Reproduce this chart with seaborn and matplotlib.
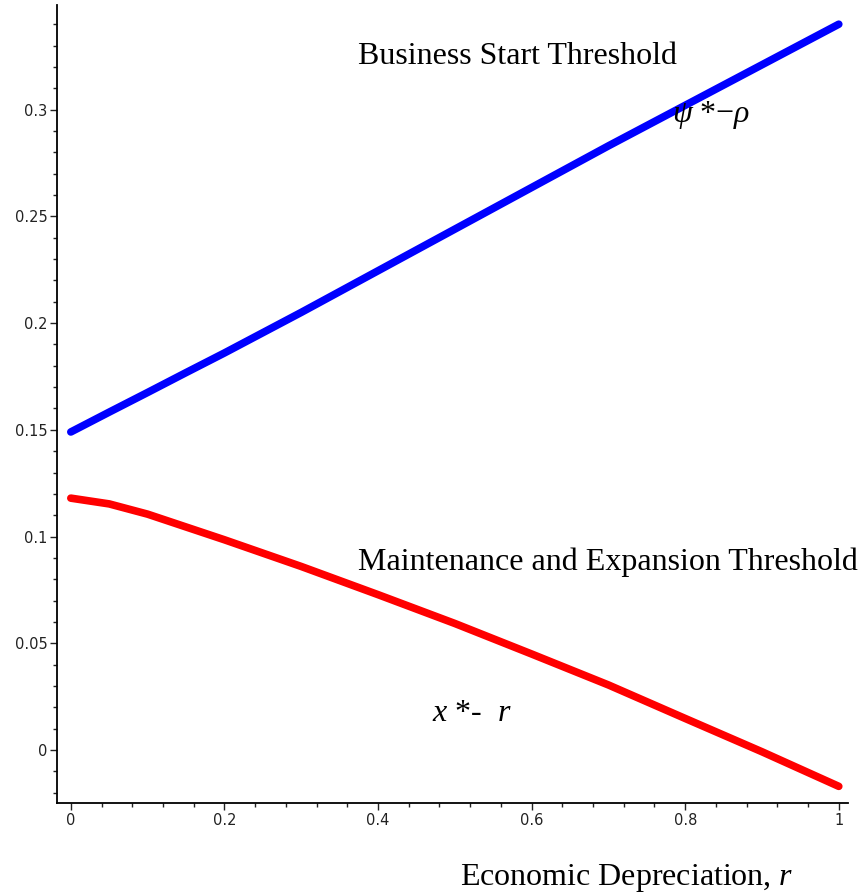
import numpy as np
import pandas as pd
import matplotlib
matplotlib.use("Agg")
import matplotlib.pyplot as plt
import seaborn as sns
from matplotlib.ticker import MultipleLocator, FuncFormatter

# values
r_grid = [0.0, 0.05, 0.1, 0.15, 0.2, 0.3, 0.4, 0.5, 0.6, 0.7, 0.8, 0.9, 1.0]
start_threshold = [0.149, 0.1583, 0.1675, 0.1768, 0.186, 0.205, 0.2245, 0.244, 0.2635, 0.283, 0.302, 0.321, 0.340]
maint_threshold = [0.118, 0.1153, 0.1105, 0.1045, 0.0985, 0.086, 0.0728, 0.0593, 0.045, 0.0305, 0.0148, -0.0008, -0.017]

df = pd.DataFrame({
    "r": r_grid * 2,
    "value": start_threshold + maint_threshold,
    "curve": ["start"] * len(r_grid) + ["maint"] * len(r_grid),
})

sns.set_style("ticks")
plt.rcParams["mathtext.fontset"] = "custom"
plt.rcParams["mathtext.rm"] = "Liberation Serif"
plt.rcParams["mathtext.it"] = "Liberation Serif:italic"
plt.rcParams["text.color"] = "black"

fig = plt.figure(figsize=(8.6, 8.96), dpi=100)
ax = fig.add_axes([57 / 860, 1 - 803 / 896, (848 - 57) / 860, (803 - 5) / 896])

sns.lineplot(data=df, x="r", y="value", hue="curve",
             palette={"start": "#0000ff", "maint": "#ff0000"},
             linewidth=5.5, legend=False, ax=ax, solid_capstyle="round",
             solid_joinstyle="round")

ax.set_xlim(-0.018, 1.012)
ax.set_ylim(-0.0248, 0.349)
ax.xaxis.set_major_locator(MultipleLocator(0.2))
ax.xaxis.set_minor_locator(MultipleLocator(0.04))
ax.yaxis.set_major_locator(MultipleLocator(0.05))
ax.yaxis.set_minor_locator(MultipleLocator(0.01))
fmt = FuncFormatter(lambda v, p: f"{round(v, 4):g}")
ax.xaxis.set_major_formatter(fmt)
ax.yaxis.set_major_formatter(fmt)
ax.tick_params(which="major", length=5, width=1, colors="#222222", labelsize=10.5, pad=2)
ax.tick_params(which="minor", length=3, width=1, colors="#222222")
ax.set_xlabel("")
ax.set_ylabel("")
sns.despine(ax=ax)
for s in ("left", "bottom"):
    ax.spines[s].set_linewidth(1.3)
    ax.spines[s].set_color("black")

serif = "Liberation Serif"
ax.text(0.374, 0.3247, "Business Start Threshold", family=serif, fontsize=23, va="center", ha="left", color="black")
ax.text(0.374, 0.0881, "Maintenance and Expansion Threshold", family=serif, fontsize=23, va="center", ha="left", color="black")
ax.text(0.7826, 0.2976, r"$\psi$ *$-\rho$", family=serif, fontsize=23, va="center", ha="left", color="black")
ax.text(0.470, 0.0173, r"$x$ *-  $r$", family=serif, fontsize=23, va="center", ha="left", color="black")
fig.text(460 / 860, 1 - 878 / 896, r"Economic Depreciation, $r$", family=serif, fontsize=23,
         va="center", ha="left", color="black")

fig.savefig("out.png", dpi=100)
